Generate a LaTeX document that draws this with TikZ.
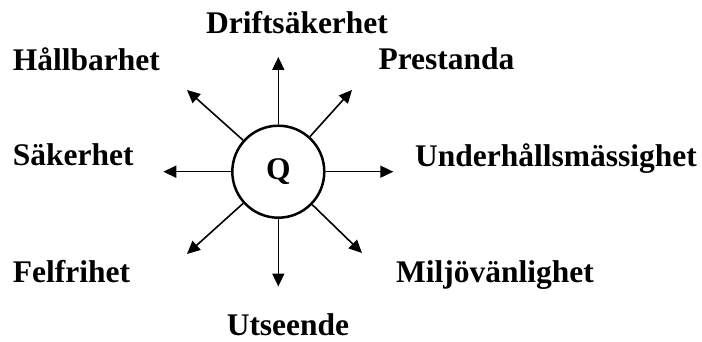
\documentclass[tikz,border=0pt]{standalone}
\usepackage{fontspec}
\setmainfont{Liberation Serif}
\usetikzlibrary{arrows.meta}
\begin{document}
\begin{tikzpicture}[x=1pt, y=-1pt,
    lab/.style={font=\fontsize{31.5}{36}\selectfont\bfseries, inner sep=0pt},
    >={Triangle[length=13pt, width=12pt]}]
    \useasboundingbox (0,0) rectangle (702,342);

    % Kvalitet i mitten
    \node[lab, circle, draw, line width=2.5pt, minimum size=92pt] (q) at (278.3,171.7) {Q};

    % Egenskaper
    \node[lab, anchor=base] (drift) at (297,33.3) {Driftsäkerhet};
    \node[lab, anchor=base west] (hall) at (12.7,70.7) {Hållbarhet};
    \node[lab, anchor=base west] (prest) at (378.3,70) {Prestanda};
    \node[lab, anchor=base west] (sak) at (12.7,166) {Säkerhet};
    \node[lab, anchor=base west] (under) at (415,166.7) {Underhållsmässighet};
    \node[lab, anchor=base west] (fel) at (12.7,282.3) {Felfrihet};
    \node[lab, anchor=base west] (miljo) at (396,282.3) {Miljövänlighet};
    \node[lab, anchor=base] (utse) at (288,335.5) {Utseende};

    % Pilspetsar
    \coordinate (tn) at (278.3,57);
    \coordinate (tne) at (352,90);
    \coordinate (te) at (393.3,171.7);
    \coordinate (tse) at (362,253);
    \coordinate (ts) at (278.3,286.5);
    \coordinate (tsw) at (187,254);
    \coordinate (tw) at (163.3,171.7);
    \coordinate (tnw) at (187,90);

    % Pilar ut från Q
    \foreach \t in {tn,tne,te,tse,ts,tsw,tw,tnw}
        \draw[->, line width=1.6pt] (q) -- (\t);

\end{tikzpicture}
\end{document}
